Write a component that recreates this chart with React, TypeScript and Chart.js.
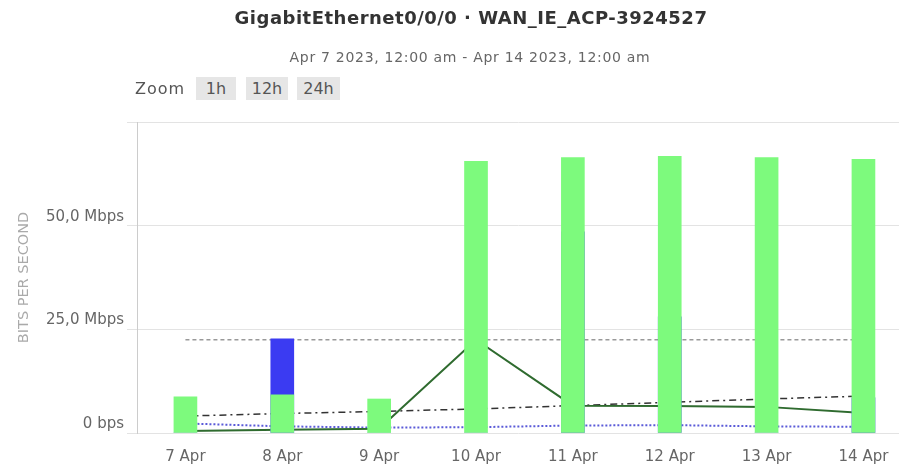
import React, { useEffect, useRef } from 'react';
import { Chart, registerables } from 'chart.js';

Chart.register(...registerables);

// ---- data (Mbps) ----
const DAY_LABELS = ['7 Apr', '8 Apr', '9 Apr', '10 Apr', '11 Apr', '12 Apr', '13 Apr', '14 Apr'];
const TRAFFIC_IN = [8.7, 9.2, 8.2, 65.5, 66.4, 66.7, 66.4, 66.0];
const TRAFFIC_OUT = [0, 22.7, 0, 0, 48.5, 28.0, 0, 8.5];
const AVG_IN = [0.5, 0.8, 1.0, 22.5, 6.6, 6.5, 6.3, 4.8];
const TREND = [4.1, 4.7, 5.2, 5.8, 6.6, 7.4, 8.2, 8.9];
const THRESHOLD = [22.5, 22.5, 22.5, 22.5, 22.5, 22.5, 22.5, 22.5];
const AVG_OUT = [2.3, 1.6, 1.3, 1.4, 1.8, 1.9, 1.6, 1.5];
const Y_TICKS = [0, 25, 50, 75];
const Y_TICK_LABELS = ['0 bps', '25,0 Mbps', '50,0 Mbps', ''];

const TITLE = 'GigabitEthernet0/0/0 · WAN_IE_ACP-3924527';
const SUBTITLE = 'Apr 7 2023, 12:00 am - Apr 14 2023, 12:00 am';
const ZOOM_BUTTONS = ['1h', '12h', '24h'];

const pts = (arr: number[]) => arr.map((y, i) => ({ x: i, y }));

const FONT = '"DejaVu Sans", sans-serif';

export default function App() {
  const ref = useRef<HTMLCanvasElement | null>(null);

  useEffect(() => {
    if (!ref.current) return;
    const chart = new Chart(ref.current, {
      type: 'line',
      data: {
        datasets: [
          {
            type: 'bar',
            data: pts(TRAFFIC_IN),
            backgroundColor: '#7dfa7d',
            barThickness: 23,
            grouped: false,
            order: 0,
          } as any,
          {
            type: 'bar',
            data: pts(TRAFFIC_OUT),
            backgroundColor: '#3b3bf2',
            barThickness: 23,
            grouped: false,
            order: 1,
          } as any,
          {
            type: 'line',
            data: pts(AVG_IN),
            borderColor: '#2f6b2f',
            borderWidth: 2,
            pointRadius: 0,
            pointHoverRadius: 0,
            order: 2,
          },
          {
            type: 'line',
            data: pts(TREND),
            borderColor: '#333333',
            borderWidth: 1.5,
            borderDash: [7, 4, 2, 4],
            pointRadius: 0,
            pointHoverRadius: 0,
            order: 3,
          },
          {
            type: 'line',
            data: pts(THRESHOLD),
            borderColor: '#999999',
            borderWidth: 1.5,
            borderDash: [4, 3],
            pointRadius: 0,
            pointHoverRadius: 0,
            order: 4,
          },
          {
            type: 'line',
            data: pts(AVG_OUT),
            borderColor: '#5a5ad8',
            borderWidth: 2,
            borderDash: [2, 2],
            pointRadius: 0,
            pointHoverRadius: 0,
            order: 5,
          },
        ],
      },
      options: {
        responsive: false,
        animation: false,
        layout: { autoPadding: false, padding: { top: 122, left: 0, right: 0, bottom: 0 } },
        plugins: { legend: { display: false }, tooltip: { enabled: false }, title: { display: false } },
        scales: {
          x: {
            type: 'linear',
            min: -0.5,
            max: 7.367,
            offset: false,
            grid: { display: false, drawTicks: true, tickLength: 15, offset: false },
            border: { display: false },
            afterBuildTicks: (s: any) => {
              s.ticks = DAY_LABELS.map((_, i) => ({ value: i }));
            },
            afterFit: (s: any) => {
              s.height = 34;
            },
            ticks: {
              autoSkip: false,
              maxRotation: 0,
              padding: 0,
              color: '#666',
              font: { family: FONT, size: 15 },
              callback: (v: any) => DAY_LABELS[v] ?? '',
            },
          },
          y: {
            min: 0,
            max: 75,
            afterBuildTicks: (s: any) => {
              s.ticks = Y_TICKS.map((v) => ({ value: v }));
            },
            afterFit: (s: any) => {
              s.width = 137;
            },
            grid: { color: '#e3e3e3', tickLength: 10 },
            border: { display: true, color: '#cccccc' },
            ticks: {
              padding: 3,
              labelOffset: -9,
              color: '#666',
              font: { family: FONT, size: 15 },
              callback: (v: any) => Y_TICK_LABELS[Y_TICKS.indexOf(v)] ?? '',
            },
            title: {
              display: true,
              text: 'BITS PER SECOND',
              color: '#aaaaaa',
              font: { family: FONT, size: 14.5 },
              padding: { top: 16, bottom: 0 },
            },
          },
        },
      },
    });
    return () => chart.destroy();
  }, []);

  const btnPos = [
    { left: 196, width: 40 },
    { left: 246, width: 42 },
    { left: 297, width: 43 },
  ];

  return (
    <div style={{ position: 'absolute', left: 0, top: 0, width: 899, height: 467, background: '#fff', overflow: 'hidden' }}>
      <canvas ref={ref} width={899} height={467} style={{ position: 'absolute', left: 0, top: 0 }} />
      <div
        style={{
          position: 'absolute',
          left: 471,
          top: 8,
          transform: 'translateX(-50%)',
          whiteSpace: 'nowrap',
          fontFamily: FONT,
          fontWeight: 'bold',
          fontSize: 18,
          lineHeight: '20px',
          letterSpacing: '0.5px',
          color: '#333',
        }}
      >
        {TITLE}
      </div>
      <div
        style={{
          position: 'absolute',
          left: 470,
          top: 49,
          transform: 'translateX(-50%)',
          whiteSpace: 'nowrap',
          fontFamily: FONT,
          fontSize: 14,
          lineHeight: '16px',
          letterSpacing: '0.7px',
          color: '#666',
        }}
      >
        {SUBTITLE}
      </div>
      <div
        style={{
          position: 'absolute',
          left: 135,
          top: 77,
          height: 23,
          lineHeight: '23px',
          fontFamily: FONT,
          fontSize: 16,
          letterSpacing: '1px',
          color: '#555',
        }}
      >
        Zoom
      </div>
      {ZOOM_BUTTONS.map((b, i) => (
        <div
          key={b}
          style={{
            position: 'absolute',
            left: btnPos[i].left,
            width: btnPos[i].width,
            top: 77,
            height: 23,
            lineHeight: '23px',
            textAlign: 'center',
            background: '#e6e6e6',
            fontFamily: FONT,
            fontSize: 16,
            color: '#555',
          }}
        >
          {b}
        </div>
      ))}
    </div>
  );
}
